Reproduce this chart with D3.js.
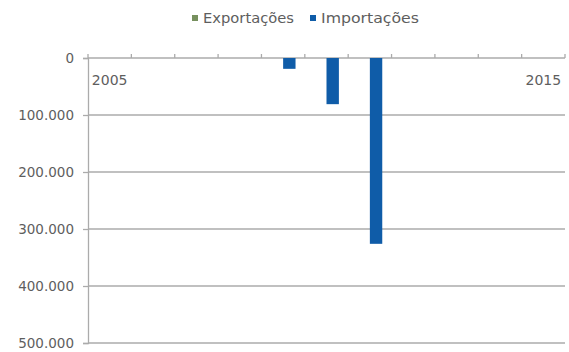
<!DOCTYPE html>
<html><head><meta charset="utf-8">
<script src="https://cdn.jsdelivr.net/npm/d3@7"></script>
<style>body{margin:0;background:#fff;} text{font-family:"DejaVu Sans",sans-serif;}</style>
</head><body>
<svg id="c" width="569" height="352"></svg>
<script>
const years = [2005,2006,2007,2008,2009,2010,2011,2012,2013,2014,2015];
const exportacoes = [0,0,0,0,0,0,0,0,0,0,0];
const importacoes = [0,0,0,0,19000,81000,326000,0,0,0,0];
const yTicks = [0,100000,200000,300000,400000,500000];
const shownYearLabels = [2005,2015];
const seriesNames = ["Exportações","Importações"];
const colors = ["#77905e","#0f5ca8"];

(function(){
const svg = d3.select("#c");
const mL = 88, mR = 565, mT = 58, mB = 343;
const x = d3.scaleBand().domain(years).range([mL, mR]).padding(0);
const y = d3.scaleLinear().domain([0,500000]).range([mT, mB]);
const gridColor = "#ababab";
const textColor = "#5e5e5e";

svg.append("g").selectAll("line").data(yTicks.slice(1)).join("line")
  .attr("x1", mL).attr("x2", mR)
  .attr("y1", d=>y(d)).attr("y2", d=>y(d))
  .attr("stroke", gridColor).attr("stroke-width",1.3);

const yAxis = d3.axisLeft(y).tickValues(yTicks).tickSize(5)
  .tickFormat(d => d===0 ? "0" : d3.format(",")(d).replace(/,/g,"."));
const gy = svg.append("g").attr("transform",`translate(${mL},0)`).call(yAxis);
gy.select(".domain").attr("stroke", gridColor).attr("stroke-width",1.3);
gy.selectAll(".tick line").attr("stroke", gridColor).attr("stroke-width",1.3);
gy.selectAll(".tick text").attr("fill",textColor).attr("font-size","13.5px").attr("x",-14).attr("font-family","DejaVu Sans");

const xTickPos = years.map(d=>x(d)).concat([mR]);
svg.append("line").attr("x1",mL).attr("x2",mR).attr("y1",y(0)).attr("y2",y(0))
  .attr("stroke",gridColor).attr("stroke-width",1.3);
svg.append("g").selectAll("line").data(xTickPos).join("line")
  .attr("x1",d=>d).attr("x2",d=>d).attr("y1",y(0)).attr("y2",y(0)-4)
  .attr("stroke",gridColor).attr("stroke-width",1.3);
svg.append("g").selectAll("text").data(shownYearLabels).join("text")
  .attr("x", d=>x(d)+x.bandwidth()/2).attr("y", y(0)+27)
  .attr("text-anchor","middle").attr("fill",textColor).attr("font-size","14px")
  .text(d=>d);

const inner = d3.scaleBand().domain([0,1]).range([0,x.bandwidth()]).paddingInner(0).paddingOuter(0.75);
[exportacoes, importacoes].forEach((vals, si) => {
  svg.append("g").selectAll("rect").data(years.map((yr,i)=>({yr, v: vals[i]})).filter(d=>d.v>0)).join("rect")
    .attr("x", d=>x(d.yr)+inner(si))
    .attr("width", inner.bandwidth())
    .attr("y", y(0))
    .attr("height", d=>y(d.v)-y(0))
    .attr("fill", colors[si]);
});

const leg = svg.append("g");
const legX = [192, 310];
const legW = [91, 98];
seriesNames.forEach((n,i)=>{
  leg.append("rect").attr("x",legX[i]).attr("y",15).attr("width",6).attr("height",6).attr("fill",colors[i]);
  leg.append("text").attr("x",legX[i]+11).attr("y",23).attr("fill",textColor).attr("font-size","14px")
    .attr("textLength", legW[i]).attr("lengthAdjust","spacingAndGlyphs").text(n);
});
})();
</script>
</body></html>
